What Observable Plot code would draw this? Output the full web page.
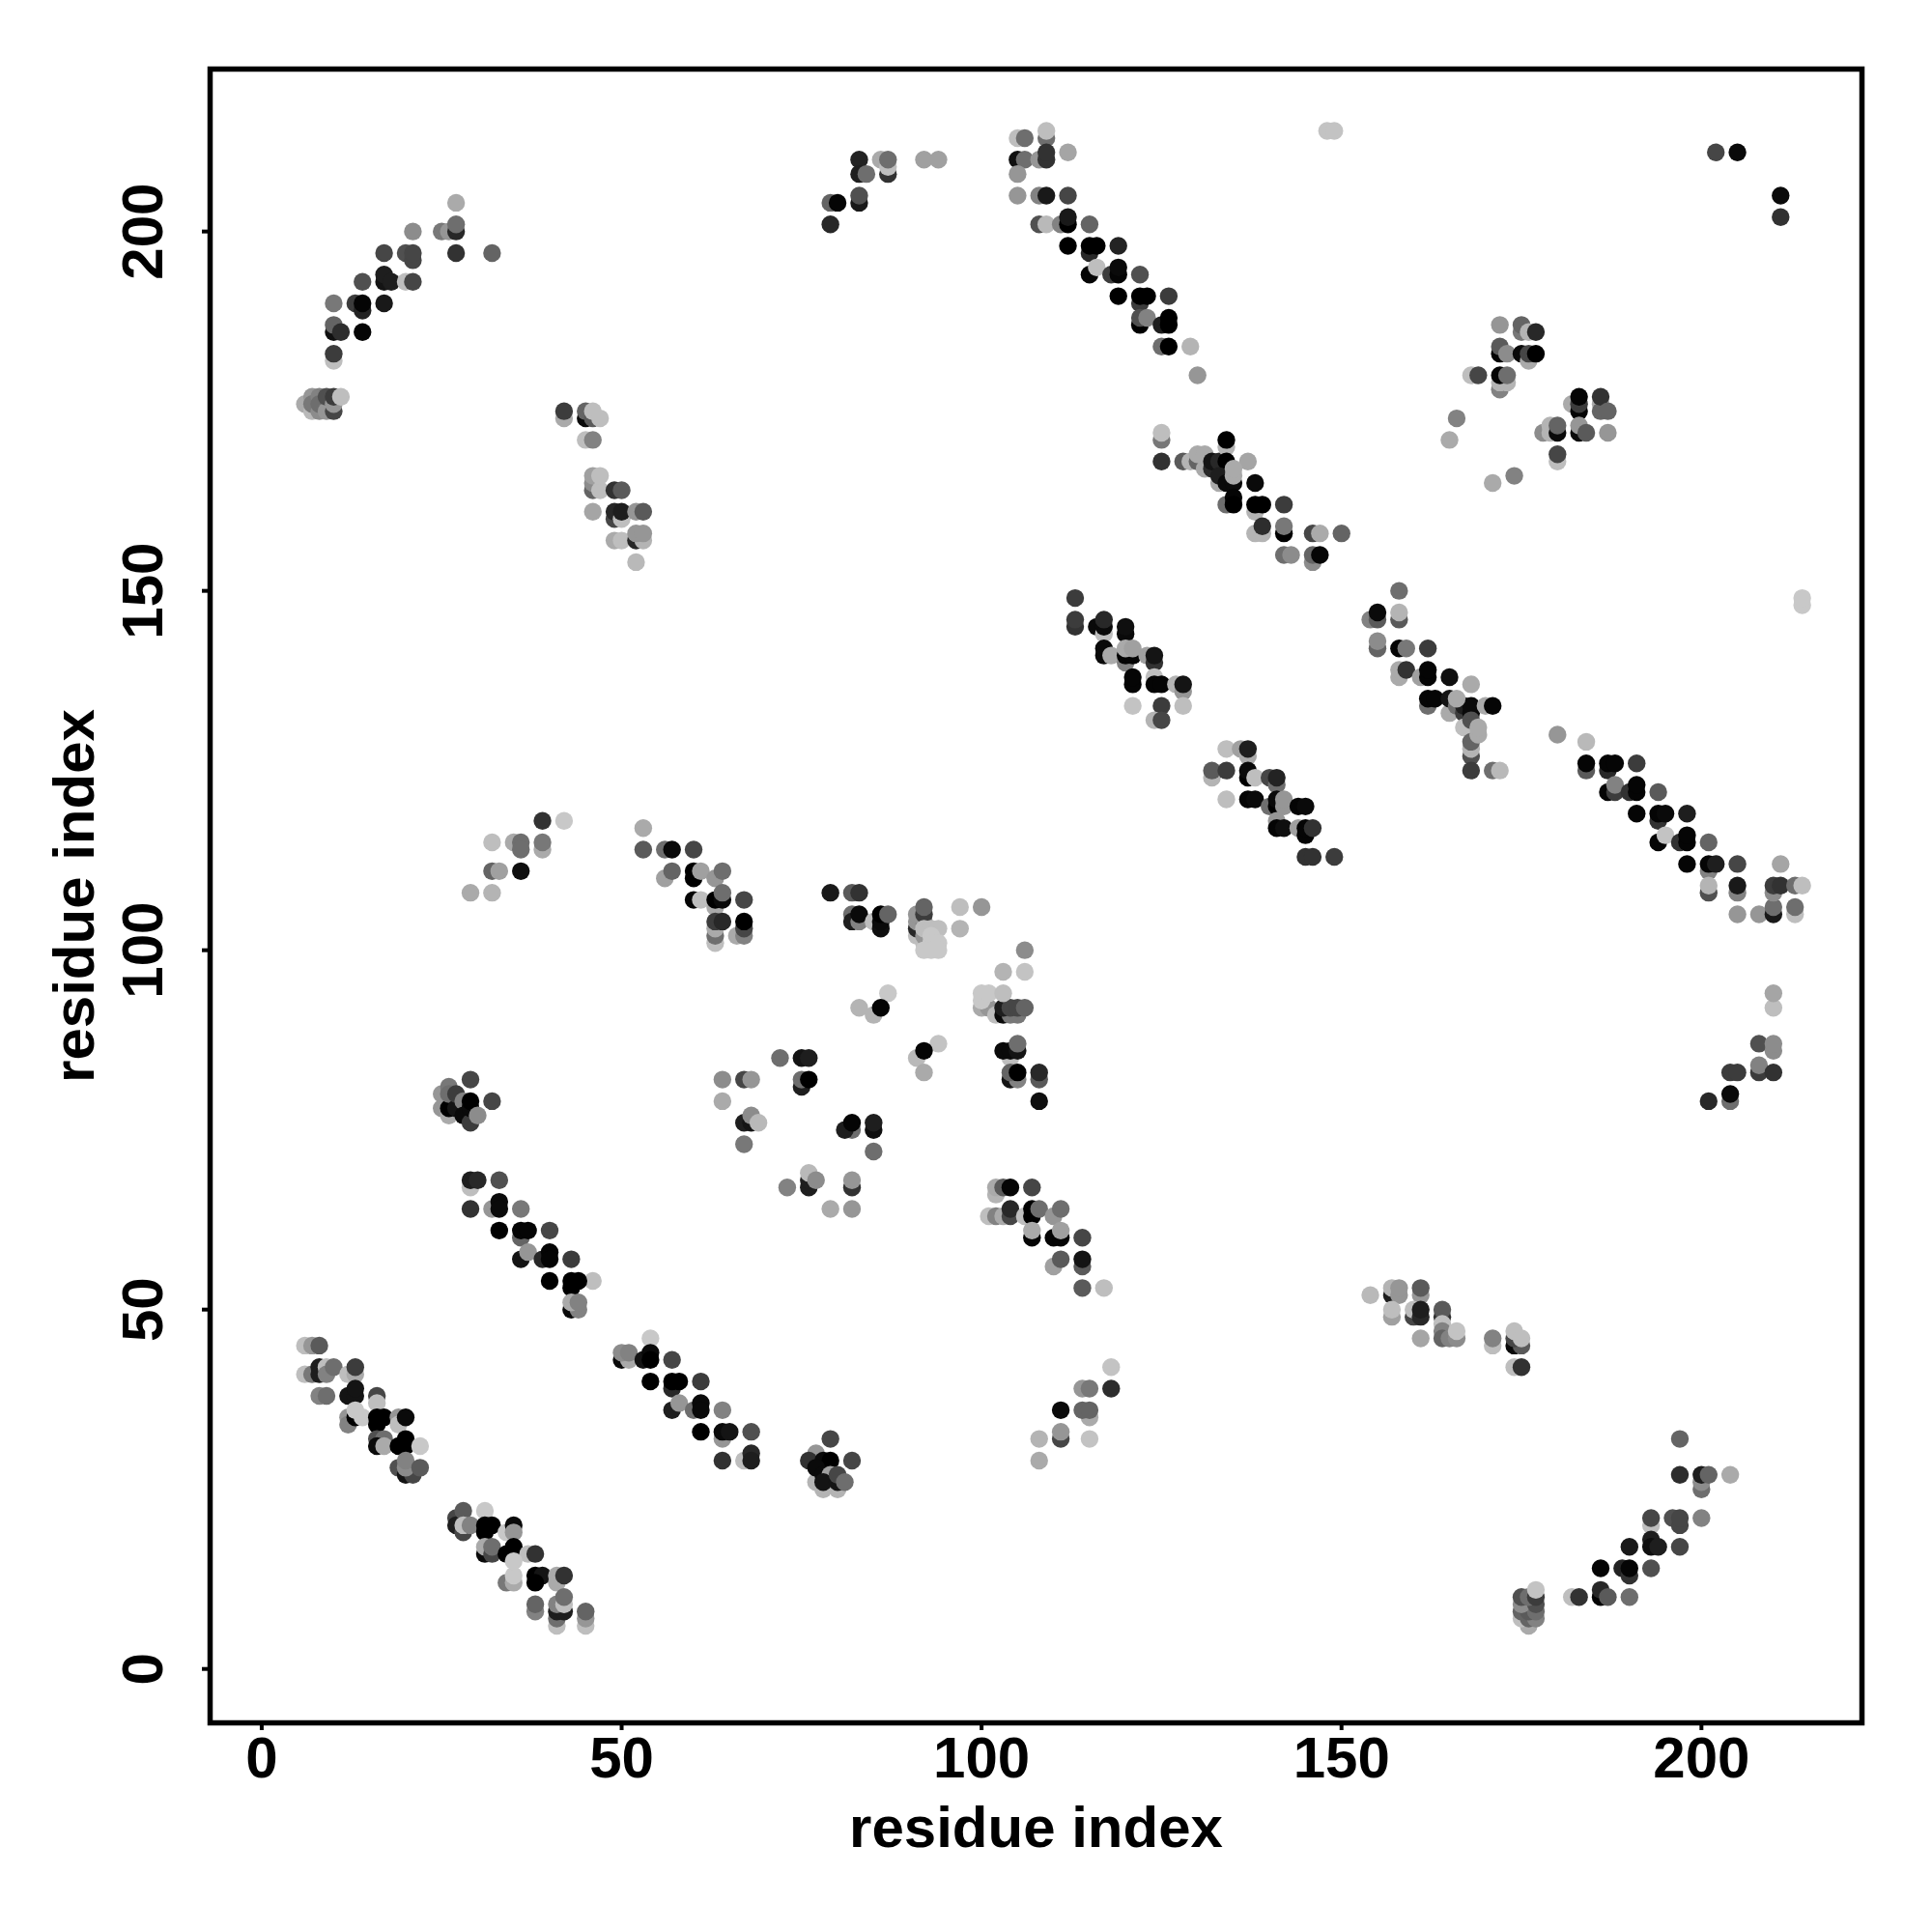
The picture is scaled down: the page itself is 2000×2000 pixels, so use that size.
<!DOCTYPE html>
<html><head><meta charset="utf-8">
<script src="https://cdn.jsdelivr.net/npm/d3@7"></script>
<script src="https://cdn.jsdelivr.net/npm/@observablehq/plot@0.6"></script>
<style>html,body{margin:0;padding:0;background:#fff}svg{display:block}</style>
</head><body><div id="chart"></div>
<script>
const tickValues=[0,50,100,150,200];
const axisLabel="residue index";
// each entry: residue x, residue y, gray level
const clusterA=[[6,45,190],[7,45,150],[8,45,90],[6,41,190],[7,41,120],[8,42,30],[8,41,30],[9,42,190],[9,41,130],[10,42,110],[12,41,190],[13,41,170],[13,42,60],[8,38,130],[9,38,110],[12,38,20],[13,38,20],[13,39,20],[16,38,70],[16,37,190],[12,35,150],[12,34,130],[13,35,0],[13,36,200],[14,35,200],[16,35,0],[17,35,0],[16,34,0],[19,35,150],[19,34,190],[20,35,10],[16,32,80],[17,32,110],[16,31,10],[17,31,170],[20,32,0],[19,31,0],[20,31,0],[22,31,200],[19,28,80],[20,27,20],[21,27,70],[20,28,140],[20,29,130],[22,28,90]];
const clusterB=[[27,21,70],[27,20,30],[28,19,70],[28,22,90],[28,20,190],[29,20,130],[31,22,200],[31,20,0],[32,20,0],[31,19,0],[34,19,200],[35,20,10],[35,19,150],[31,16,10],[31,17,170],[32,16,70],[32,17,110],[34,16,0],[35,17,0],[35,16,0],[37,16,190],[38,16,50],[34,12,120],[35,12,170],[35,13,200],[35,15,200],[38,13,0],[39,13,20],[38,12,0],[41,13,170],[41,12,170],[42,13,50],[38,8,130],[38,9,100],[41,6,190],[41,7,110],[41,8,30],[42,8,30],[41,9,130],[42,9,190],[42,10,110],[45,6,190],[45,7,150],[45,8,100]];
const clusterC=[[54,46,200],[50,43,10],[51,43,170],[50,44,140],[51,44,130],[53,43,20],[54,44,10],[54,43,0],[57,43,70],[57,39,40],[54,40,0],[57,40,0],[58,40,0],[61,40,60],[57,36,30],[58,37,150],[60,36,110],[61,37,10],[61,36,10],[64,36,130],[64,32,150],[61,33,0],[64,33,10],[65,33,20],[68,33,80],[64,29,50],[67,29,190],[68,30,40],[68,29,30]];
const clusterD=[[79,32,70],[77,30,150],[76,29,50],[78,29,10],[79,29,0],[82,29,70],[77,26,180],[78,25,180],[80,25,180],[79,26,180],[77,28,10],[78,27,10],[79,27,160],[78,26,20],[80,26,20],[80,27,70],[81,26,110]];
const clusterE=[[29,67,190],[29,68,30],[30,68,40],[33,68,80],[29,64,50],[32,64,150],[33,65,10],[33,64,10],[36,64,120],[36,60,100],[33,61,0],[36,61,5],[37,61,5],[40,61,70],[36,57,20],[37,58,150],[39,57,40],[40,58,5],[40,57,5],[43,57,60],[46,54,190],[40,54,0],[43,54,0],[44,54,0],[43,53,0],[43,50,10],[44,50,130],[43,51,170],[44,51,130]];
const clusterF=[[39,118,50],[42,118,200],[32,115,190],[35,115,170],[36,115,110],[39,114,170],[39,115,120],[36,114,110],[32,111,100],[33,111,160],[36,111,15],[29,108,170],[32,108,180]];
const clusterG=[[53,117,170],[53,114,90],[56,114,110],[57,114,10],[60,114,70],[56,110,160],[57,111,100],[60,110,0],[60,111,0],[61,111,160],[63,110,150],[64,111,110],[60,107,5],[61,107,190],[63,106,170],[63,107,0],[64,107,10],[64,108,110],[67,107,70],[63,101,190],[63,102,110],[63,103,170],[66,102,170],[67,102,130],[67,103,70],[63,104,60],[64,104,40],[67,104,0]];
const clusterH=[[79,108,25],[82,108,90],[83,108,50],[82,105,110],[82,104,30],[83,104,130],[83,105,10],[85,104,190],[86,103,15],[86,104,10],[86,105,0],[87,105,100],[91,102,190],[92,101,190],[91,103,40],[92,102,150],[91,104,150],[92,104,130],[91,105,150],[92,105,60],[92,106,100],[92,103,190],[97,106,190],[100,106,150],[97,103,180],[93,103,190],[94,103,190],[93,102,200],[93,101,200],[94,101,200],[92,100,200],[93,100,200],[94,100,200]];
const clusterI=[[106,100,140],[103,97,180],[106,97,195],[100,92,170],[101,92,150],[102,91,190],[103,91,10],[104,91,120],[105,91,120],[103,92,30],[104,92,70],[105,92,70],[106,92,100],[100,93,200],[100,94,200],[101,94,200],[103,94,190]];
const clusterJ=[[87,94,200],[83,92,180],[85,91,180],[86,92,5],[94,87,195],[91,85,185],[92,83,170],[92,86,5]];
const clusterK=[[104,85,190],[103,86,10],[104,86,10],[105,86,20],[105,87,110],[104,82,20],[105,82,130],[104,83,100],[105,83,0],[108,82,90],[108,83,40],[108,79,15]];
const clusterL=[[25,80,150],[25,78,150],[26,77,170],[26,78,0],[26,81,120],[26,80,110],[27,78,20],[27,80,60],[28,79,130],[28,77,10],[29,76,60],[29,78,10],[29,79,0],[29,82,70],[30,77,140],[32,79,70]];
const clusterM=[[72,85,110],[75,85,20],[76,85,30],[64,82,140],[67,82,70],[68,82,150],[64,79,170],[75,81,30],[75,82,110],[76,82,0],[67,76,30],[68,76,20],[68,77,140],[69,76,185],[67,73,120],[82,75,110],[81,75,30],[82,76,5],[85,75,15],[85,76,30],[85,72,110],[73,67,130],[76,67,30],[76,68,30],[76,69,185],[77,68,140],[82,67,50],[82,68,150],[79,64,170],[82,64,150]];
const clusterN=[[102,66,180],[102,67,170],[103,67,90],[104,67,5],[107,67,70],[101,63,190],[102,63,130],[103,63,170],[104,63,70],[104,64,40],[106,63,190],[107,63,0],[107,64,0],[108,64,110],[110,63,150],[111,64,110],[107,60,5],[107,61,170],[110,60,5],[111,60,5],[111,61,160],[114,60,70],[110,56,160],[111,57,90],[114,56,90],[114,57,20],[114,53,90],[117,53,190]];
const clusterO=[[27,204,170],[21,200,140],[25,200,120],[26,200,150],[27,200,40],[27,201,110],[17,197,70],[20,197,80],[21,196,70],[21,197,70],[27,197,50],[32,197,100],[14,193,80],[17,193,20],[17,194,30],[18,193,30],[20,193,190],[21,193,70],[10,190,120],[13,190,60],[14,189,35],[14,190,5],[17,190,25],[10,186,15],[10,187,100],[11,186,45],[14,186,5],[10,182,190],[10,183,60],[6,176,170],[7,175,185],[7,177,150],[7,176,120],[8,175,140],[8,177,130],[8,176,110],[9,175,150],[9,177,80],[10,175,70],[10,176,150],[10,177,60],[11,177,190]];
const clusterP=[[42,174,170],[42,175,60],[45,174,10],[45,175,100],[46,174,90],[46,175,190],[47,174,190],[45,171,190],[46,171,130],[46,164,100],[46,165,140],[46,166,160],[47,164,190],[47,166,190],[49,164,50],[50,164,90],[46,161,165],[49,160,70],[49,161,40],[50,160,190],[50,161,30],[52,161,150],[53,161,90],[49,157,170],[50,157,190],[52,157,40],[53,157,180],[52,158,150],[53,158,150],[52,154,185]];
const clusterQ=[[105,213,190],[106,213,110],[109,213,110],[109,214,190],[105,210,15],[106,210,110],[108,210,150],[109,210,50],[109,211,50],[112,211,165],[105,208,150],[105,205,150],[108,205,130],[109,205,25],[112,205,70],[108,201,80],[109,201,185],[111,201,130],[112,201,0],[112,202,25],[115,201,100],[112,198,0],[115,197,40],[115,198,0],[116,198,0],[119,198,35],[115,194,5],[116,195,190],[118,194,60],[119,194,5],[119,195,10],[122,194,80],[119,191,0],[122,190,60],[122,191,0],[123,191,0],[126,191,60],[122,187,0],[122,188,80],[123,188,130],[125,187,30],[126,187,0],[126,188,0],[125,184,110],[126,184,0],[129,184,180],[130,180,150]];
const clusterTop=[[148,214,195],[149,214,195],[92,210,160],[94,210,160],[202,211,70],[205,211,10],[211,205,10],[211,202,50],[214,148,200],[214,149,200]];
const clusterR=[[125,171,120],[125,172,190],[125,168,50],[128,168,90],[129,168,180],[130,168,100],[131,167,170],[130,169,170],[131,169,170],[132,167,40],[132,168,20],[133,168,40],[134,170,180],[134,171,0],[134,168,0],[137,168,165],[133,165,170],[133,166,30],[134,165,10],[135,165,10],[135,166,170],[135,167,170],[138,165,10],[134,162,110],[135,163,5],[135,162,0],[138,161,180],[138,162,0],[139,162,0],[142,162,60],[138,158,180],[139,158,180],[139,159,45],[142,158,0],[142,159,120],[146,158,70],[147,158,170],[150,158,100],[146,154,140],[142,155,110],[143,155,140],[146,155,100],[147,155,5]];
const clusterS=[[158,150,110],[154,146,130],[155,146,90],[155,147,10],[158,146,90],[158,147,180],[155,142,100],[155,143,140],[158,142,5],[159,142,120],[162,142,60],[158,138,170],[158,139,170],[159,139,50],[161,138,160],[162,138,5],[162,139,5],[165,138,15],[168,137,170],[162,134,110],[162,135,5],[163,135,5],[165,133,170],[165,135,20],[166,134,110],[167,133,60],[167,134,30],[168,133,10],[168,134,10],[166,135,170],[170,134,170],[171,134,5],[167,131,190],[168,132,80],[168,127,80],[168,128,180],[168,129,100],[169,130,170],[169,131,170],[168,125,60],[171,125,110],[172,125,185]];
const clusterT=[[134,128,190],[136,128,160],[137,127,170],[137,128,30],[132,124,180],[132,125,90],[134,125,60],[137,124,0],[137,125,10],[138,124,190],[140,124,70],[141,123,110],[141,124,35],[134,121,190],[137,121,5],[138,121,10],[140,120,110],[141,120,0],[141,121,10],[142,120,150],[142,121,150],[144,120,5],[145,120,10],[141,118,150],[141,117,5],[142,117,15],[144,117,160],[145,116,5],[145,117,5],[146,117,50],[145,113,50],[146,113,50],[149,113,60]];
const clusterU=[[113,149,60],[113,145,50],[113,146,60],[116,145,10],[117,144,190],[117,145,10],[117,146,40],[117,141,10],[117,142,10],[118,141,170],[120,144,10],[120,145,15],[120,140,130],[120,141,5],[121,141,5],[120,142,170],[121,142,160],[123,141,160],[124,140,50],[124,141,20],[121,137,5],[121,138,5],[124,138,190],[124,137,5],[125,137,5],[127,137,180],[128,136,150],[128,137,20],[121,134,195],[125,134,60],[128,134,190],[124,132,180],[125,132,70]];
const clusterV=[[165,171,170],[166,174,130],[171,165,170],[174,166,130],[172,187,150],[175,186,120],[175,187,100],[176,186,180],[177,186,40],[172,183,5],[172,184,90],[173,183,140],[175,183,10],[176,182,170],[176,183,70],[177,183,0],[168,180,190],[169,180,70],[172,178,130],[172,179,180],[173,179,180],[172,180,5],[173,180,110],[182,176,170],[183,175,5],[183,176,60],[183,177,5],[186,176,170],[186,175,100],[186,177,50],[187,175,100],[178,172,140],[179,172,180],[179,173,180],[180,172,10],[180,173,100],[183,172,10],[183,173,150],[184,172,90],[187,172,150],[180,168,190],[180,169,70]];
const clusterW=[[180,130,150],[184,129,185],[184,125,90],[184,126,5],[187,125,40],[187,126,5],[188,126,5],[191,126,60],[187,122,5],[188,122,60],[188,123,130],[190,122,50],[191,122,5],[191,123,5],[194,122,90],[191,119,5],[194,118,50],[194,119,5],[195,119,10],[198,119,30],[194,115,5],[195,116,195],[197,115,50],[198,115,5],[198,116,5],[201,115,100],[198,112,5],[201,111,130],[201,112,5],[202,112,30],[205,112,70],[201,108,80],[201,109,180],[205,108,130],[205,109,25],[211,112,165],[205,105,150],[208,105,150],[210,105,25],[210,106,110],[210,108,140],[210,109,60],[211,109,50],[213,105,190],[213,106,110],[213,109,110],[214,109,190]];
const clusterX=[[154,52,185],[157,52,30],[157,53,180],[158,52,150],[158,53,150],[161,52,150],[161,53,90],[157,49,160],[157,50,190],[160,49,70],[160,50,190],[161,49,40],[161,50,30],[164,49,50],[164,50,90],[164,48,190],[164,47,130],[161,46,165],[164,46,100],[165,46,130],[166,46,140],[166,47,195],[171,45,190],[171,46,130],[174,45,10],[175,45,90],[174,46,70],[174,47,190],[175,46,190],[174,42,190],[175,42,50]];
const clusterY=[[118,42,195],[114,39,150],[115,39,120],[118,39,45],[111,36,10],[115,35,170],[114,36,100],[115,36,100],[108,32,180],[111,32,70],[111,33,150],[115,32,195],[108,29,170]];
const clusterZ=[[197,32,100],[197,27,45],[200,25,110],[200,26,140],[200,27,30],[201,27,100],[204,27,170],[193,20,190],[193,21,70],[196,21,80],[197,20,70],[197,21,70],[200,21,130],[193,18,30],[190,17,25],[193,17,15],[194,17,30],[197,17,70],[186,14,5],[189,14,35],[190,13,50],[190,14,5],[193,14,80],[182,10,190],[183,10,50],[186,10,5],[186,11,40],[187,10,90],[190,10,110],[176,6,170],[175,7,190],[176,7,100],[177,7,130],[175,8,100],[176,8,90],[177,8,110],[175,9,140],[177,9,80],[175,10,80],[176,10,110],[177,10,60],[177,11,195]];
const clusterTopMid=[[79,201,40],[79,204,100],[80,204,5],[83,204,25],[83,205,80],[83,210,35],[83,208,30],[84,208,110],[86,210,170],[87,208,50],[87,209,190],[87,210,110]];
const clusterRight=[[201,79,40],[204,79,110],[204,80,10],[204,83,60],[205,83,60],[208,83,60],[208,84,130],[208,87,80],[210,83,50],[210,86,140],[210,87,140],[210,92,190],[210,94,165]];

const rows=[clusterA,clusterB,clusterC,clusterD,clusterE,clusterF,clusterG,clusterH,clusterI,clusterJ,clusterK,clusterL,clusterM,clusterN,clusterO,clusterP,clusterQ,clusterTop,clusterR,clusterS,clusterT,clusterU,clusterV,clusterW,clusterX,clusterY,clusterZ,clusterTopMid,clusterRight].flat();

const font={fontFamily:"Liberation Sans",fontSize:60,fontWeight:"bold"};
const chart=Plot.plot({
  width:2000,height:2000,
  marginLeft:217,marginRight:73,marginTop:71,marginBottom:217,
  style:{background:"#fff",color:"#000"},
  x:{domain:[-7.17,222.3]},
  y:{domain:[-7.5,222.6]},
  marks:[
    Plot.dot(rows,{x:d=>d[0],y:d=>d[1],r:9.2,fill:d=>d3.rgb(d[2],d[2],d[2]).formatHex(),stroke:"none"}),
    Plot.frame({stroke:"#000",strokeWidth:5.5}),
    Plot.axisX({ticks:tickValues,tickSize:8,tickPadding:6,strokeWidth:4,label:axisLabel,labelAnchor:"center",labelArrow:"none",labelOffset:128,...font}),
    Plot.axisY({ticks:tickValues,tickSize:8,tickPadding:42,strokeWidth:4,tickRotate:-90,textAnchor:"middle",label:axisLabel,labelAnchor:"center",labelArrow:"none",labelOffset:163,...font})
  ]
});
document.getElementById("chart").append(chart);
</script></body></html>
